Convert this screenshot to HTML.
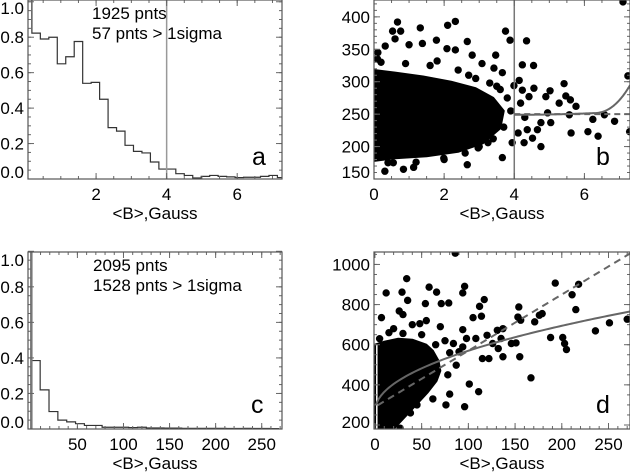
<!DOCTYPE html>
<html><head><meta charset="utf-8"><style>
html,body{margin:0;padding:0;background:#fff;}
svg{display:block;font-family:"Liberation Sans",Arial,sans-serif;}
</style></head><body>
<svg id="fig" width="630" height="473" viewBox="0 0 630 473"></svg>
<script>
// ---------- data ----------
const histAValues = [0.823,0.79,0.80,0.65,0.69,0.776,0.54,0.545,0.45,0.29,0.27,0.19,0.156,0.147,0.096,0.056,0.056,0.03,0.02,0.006,0.015,0.02,0.015,0.012,0.008,0.01,0.01,0.015,0.02,0.008];
const histAStart = 0.18, histABin = 0.24;
const histCValues = [0.385,0.22,0.098,0.05,0.04,0.03,0.02,0.02,0.01,0.01,0.01,0.008,0.01,0.006,0.006,0.005,0.005,0.004,0.004,0.004,0.004,0.004,0.003,0.003,0.004,0.003,0.003,0.002];
const histCStart = 0, histCBin = 9.6;
const bCoreX = [0,0,0.6,1.4,2.2,2.9,3.4,3.7,3.6,3.1,2.4,1.5,0.6];
const bCoreY = [178,318,314,308,300,290,275,255,228,205,192,185,182];
const bX = [0.67,1.32,0.53,0.76,2.10,2.32,0.32,0.6,1.0,1.38,1.78,2.08,2.32,0.11,2.66,3.75,3.88,4.35,4.23,4.55,3.47,2.8,3.08,3.42,3.66,4.14,4.56,5.02,5.42,5.47,5.28,5.6,5.76,6.57,6.86,6.24,7.24,7.1,5.57,5.62,6.1,6.39,7.29,4.76,4.28,4.52,3.94,3.66,4.76,4.3,4.95,5.04,4.18,4.42,4.23,4.9,3.99,4.66,4.37,4.11,2.66,0.84,1.13,0.55,0.31,1.99,2.97,3.25,0.2,0.9,1.6,2.4,2.9,3.3,3.6,3.8,3.9,3.7,3.4,3.0,2.6,2.0,1.2,0.4,0.1,1.8,2.7,3.5];
const bY = [392,383,378,378,387,393,355,366,357,359,364,351,349,345,362,378,364,363,326,325,341,341,328,321,314,302,290,286,297,278,267,272,262,249,239,242,309,423,249,221,223,216,223,200,206,213,206,183,237,245,252,237,267,277,287,277,294,226,226,221,172,165,168,175,162,182,198,206,330,328,325,318,305,298,288,275,255,230,212,200,190,180,176,175,335,332,310,293];
const dCoreX = [0,0,10,25,40,55,62,68,70,66,56,44,34,26,20];
const dCoreY = [180,600,615,630,625,600,570,520,470,420,360,300,250,210,180];
const dX = [86,34,12,29,66,96,94,26,35,54,71,79,117,112,105,114,94,98,108,120,131,137,135,126,132,137,122,115,146,151,155,154,153,156,171,176,179,188,201,203,205,193,211,218,215,236,251,270,167,111,101,96,76,80,66,59,50,87,90,84,94,58,48,30,7,27,14,20,40,55,70,75,80,78,62,45,38,15,5,30,50,65];
const dY = [1056,929,858,862,862,891,858,768,821,805,805,808,825,791,735,742,675,631,631,647,672,680,631,606,581,540,531,531,606,609,540,788,738,722,714,747,755,636,636,606,576,907,849,901,775,669,709,727,435,366,404,291,300,354,465,424,391,498,565,606,589,887,705,656,735,184,242,680,700,720,690,620,560,450,330,300,260,660,630,750,650,600];
const aTicksX = [2,4,6], aTicksY = [0.0,0.2,0.4,0.6,0.8,1.0];
const bTicksX = [0,2,4,6], bTicksY = [150,200,250,300,350,400];
const cTicksX = [50,100,150,200,250], cTicksY = [0.0,0.2,0.4,0.6,0.8,1.0];
const dTicksX = [0,50,100,150,200,250], dTicksY = [200,400,600,800,1000];

// ---------- helpers ----------
const NS = "http://www.w3.org/2000/svg";
const svg = document.getElementById('fig');
const FS = 17;
function mk(tag, attrs, parent){
  const e = document.createElementNS(NS, tag);
  for (const k in attrs) e.setAttribute(k, attrs[k]);
  (parent||svg).appendChild(e); return e;
}
function panel(name, L, R, T, B, x0, x1, y0, y1){
  const g = mk('g', {});
  
  
  const sx = v => L + (v - x0) / (x1 - x0) * (R - L);
  const sy = v => B - (v - y0) / (y1 - y0) * (B - T);
  return {g, sx, sy, L, R, T, B};
}
function frame(p, xt, yt, xfmt, yfmt, xminor, yminor, letter, lx, ly){
  const clip = mk('clipPath', {id: 'clip-' + p.L + '-' + p.T}, p.g);
  mk('rect', {x:p.L, y:p.T, width:p.R-p.L, height:p.B-p.T}, clip);
  p.plot = mk('g', {'clip-path': 'url(#clip-' + p.L + '-' + p.T + ')'}, p.g);
  const ax = mk('g', {}, p.g);
  
  
  xminor.forEach(v => { const x = p.sx(v); if (x < p.L || x > p.R) return;
    mk('line', {x1:x, x2:x, y1:p.B, y2:p.B-3, stroke:'#666', 'stroke-width':1}, ax);
    mk('line', {x1:x, x2:x, y1:p.T, y2:p.T+3, stroke:'#666', 'stroke-width':1}, ax); });
  yminor.forEach(v => { const y = p.sy(v); if (y < p.T || y > p.B) return;
    mk('line', {x1:p.L, x2:p.L+3, y1:y, y2:y, stroke:'#666', 'stroke-width':1}, ax);
    mk('line', {x1:p.R, x2:p.R-3, y1:y, y2:y, stroke:'#666', 'stroke-width':1}, ax); });
  xt.forEach(v => { const x = p.sx(v);
    mk('line', {x1:x, x2:x, y1:p.B, y2:p.B-6, stroke:'#666', 'stroke-width':1}, ax);
    mk('line', {x1:x, x2:x, y1:p.T, y2:p.T+6, stroke:'#666', 'stroke-width':1}, ax);
    const t = mk('text', {x:x, y:p.B+21, 'text-anchor':'middle', 'font-size':FS, fill:'#000'}, ax);
    
    
    t.textContent = xfmt(v); });
  yt.forEach(v => { let y = p.sy(v);
    mk('line', {x1:p.L, x2:p.L+6, y1:y, y2:y, stroke:'#666', 'stroke-width':1}, ax);
    mk('line', {x1:p.R, x2:p.R-6, y1:y, y2:y, stroke:'#666', 'stroke-width':1}, ax);
    let ty = y + 6; if (ty < p.T + 14) ty = p.T + 14; if (ty > p.B + 1) ty = p.B - 1;
    const t = mk('text', {x:p.L-4, y:ty, 'text-anchor':'end', 'font-size':FS, fill:'#000'}, ax);
    
    
    t.textContent = yfmt(v); });
  mk('rect', {x:p.L, y:p.T, width:p.R-p.L, height:p.B-p.T, fill:'none', stroke:'#555', 'stroke-width':1.2}, ax);
  const tt = mk('text', {x:(p.L+p.R)/2, y:p.B+40, 'text-anchor':'middle', 'font-size':FS, fill:'#000'}, ax);
  
  
  tt.textContent = '<B>,Gauss';
  const lt = mk('text', {x:lx, y:ly, 'font-size':25, fill:'#000'}, ax);
  
  
  lt.textContent = letter;
}
function range(a, b, s){ const r=[]; for (let v=a; v<=b+1e-9; v+=s) r.push(+v.toFixed(4)); return r; }
function hist(p, vals, start, bin, topY, name){
  let d = 'M' + p.sx(start) + ',' + p.sy(topY);
  vals.forEach((v,i) => { d += ' L' + p.sx(start+i*bin) + ',' + p.sy(v) + ' L' + p.sx(start+(i+1)*bin) + ',' + p.sy(v); });
  const h = mk('path', {d:d, fill:'none', stroke:'#333', 'stroke-width':1.2}, p.plot);
  
  
}
function scatter(p, cx, cy, xs, ys, name){
  const g = mk('g', {}, p.plot);
  
  
  const pts = cx.map((v,i) => p.sx(v) + ',' + p.sy(cy[i])).join(' ');
  const core = mk('polygon', {points:pts, fill:'#000', stroke:'#000', 'stroke-width':2, 'stroke-linejoin':'round'}, g);
  
  
  xs.forEach((v,i) => {
    const c = mk('circle', {cx:p.sx(v), cy:p.sy(ys[i]), r:3.7, fill:'#000'}, g);
    
    
  });
}
function curve(p, f, a, b, attrs, name){
  let d = ''; for (let i=0;i<=100;i++){ const x=a+(b-a)*i/100; d += (i?' L':'M') + p.sx(x) + ',' + p.sy(f(x)); }
  const c = mk('path', Object.assign({d:d, fill:'none'}, attrs), p.plot);
  
  
}

// ---------- panel a ----------
const pa = panel('panel-a-histogram', 28, 282, 0, 179, 0.07, 7.27, 0, 1.01);
frame(pa, aTicksX, aTicksY, v=>v, v=>v.toFixed(1), range(0.5,7,0.5), range(0,1,0.05), 'a', 252, 165);
hist(pa, histAValues, histAStart, histABin, 1.1, 'histogram-a');
const va = mk('line', {x1:pa.sx(4), x2:pa.sx(4), y1:0, y2:179, stroke:'#999', 'stroke-width':1.5}, pa.plot);


[['1925 pnts',19],['57 pnts > 1sigma',39]].forEach(([s,y]) => {
  const t = mk('text', {x:92, y:y, 'font-size':FS, fill:'#000'}, pa.g);
  
  
  t.textContent = s; });

// ---------- panel b ----------
const pb = panel('panel-b-scatter', 374, 630, 0, 179, 0, 7.3, 150, 426);
frame(pb, bTicksX, bTicksY, v=>v, v=>v, range(0.5,7,0.5), range(160,420,10), 'b', 596, 165);
scatter(pb, bCoreX, bCoreY, bX, bY, 'scatter-b');
const vb = mk('line', {x1:pb.sx(4), x2:pb.sx(4), y1:0, y2:179, stroke:'#777', 'stroke-width':1.5}, pb.plot);


curve(pb, x=>250, 4, 7.3, {stroke:'#666','stroke-width':2,'stroke-dasharray':'6,4'}, 'linear-fit');
curve(pb, x=>249 + 0.5*Math.pow(Math.max(0,x-4),2) + 40*Math.pow(Math.max(0,x-6.3),2.2), 4, 7.3, {stroke:'#666','stroke-width':2}, 'power-fit');

// ---------- panel c ----------
const pc = panel('panel-c-histogram', 28, 282, 252, 429, -3.6, 272, 0, 0.996);
frame(pc, cTicksX, cTicksY, v=>v, v=>v.toFixed(1), range(10,270,10), range(0,1,0.05), 'c', 251, 413);
hist(pc, histCValues, histCStart, histCBin, 1.1, 'histogram-c');
const vc = mk('line', {x1:pc.sx(0), x2:pc.sx(0), y1:252, y2:429, stroke:'#777', 'stroke-width':2.5}, pc.plot);


[['2095 pnts',271],['1528 pnts > 1sigma',291]].forEach(([s,y]) => {
  const t = mk('text', {x:93, y:y, 'font-size':FS, fill:'#000'}, pc.g);
  
  
  t.textContent = s; });

// ---------- panel d ----------
const pd = panel('panel-d-scatter', 374, 630, 252, 429, -1, 273, 180, 1062);
frame(pd, dTicksX, dTicksY, v=>v, v=>v, range(10,270,10), range(200,1050,50), 'd', 596, 413);
scatter(pd, dCoreX, dCoreY, dX, dY, 'scatter-d');
const vd = mk('line', {x1:pd.sx(2), x2:pd.sx(2), y1:pd.sy(600), y2:429, stroke:'#fff', 'stroke-width':1.5}, pd.plot);


curve(pd, x=>290 + 2.8*x, 3, 273, {stroke:'#666','stroke-width':2,'stroke-dasharray':'7,5'}, 'linear-fit');
curve(pd, x=>270 + 30*Math.sqrt(x), 1, 273, {stroke:'#666','stroke-width':2}, 'power-fit');
</script>
</body></html>
